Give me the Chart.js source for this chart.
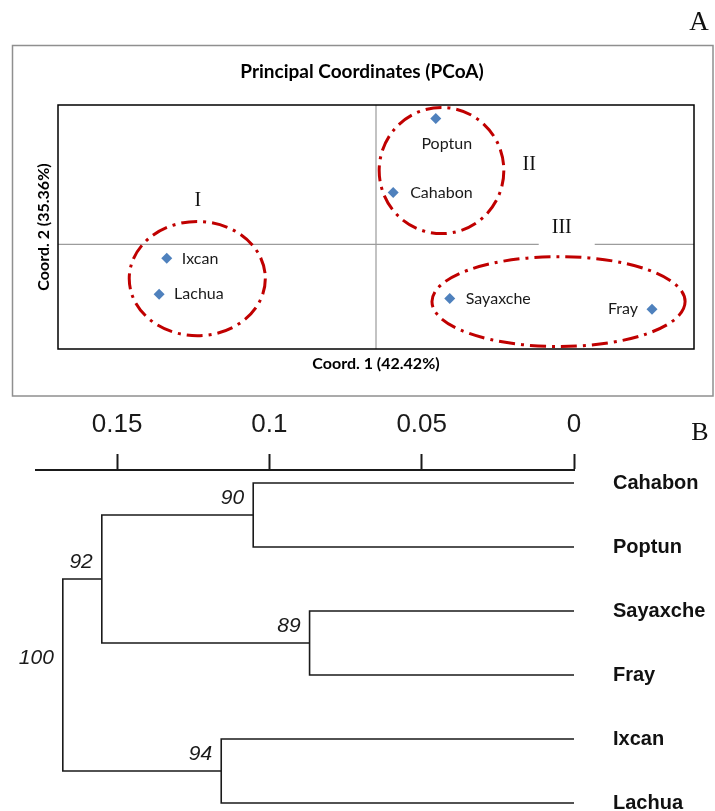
<!DOCTYPE html>
<html>
<head>
<meta charset="utf-8">
<script src="https://cdn.jsdelivr.net/npm/chart.js@4.4.1/dist/chart.umd.min.js"></script>
<style>
html,body{margin:0;padding:0;background:#fff;}
#wrap{position:relative;width:715px;height:811px;overflow:hidden;}
#pcoa{position:absolute;left:0;top:0;}
#dendro{position:absolute;left:0;top:400px;}
</style>
</head>
<body>
<div id="wrap">
  <canvas id="pcoa" width="715" height="400"></canvas>
  <canvas id="dendro" width="715" height="411"></canvas>
</div>
<script>
// ---------- Panel A data (PCoA) ----------
const populations = ['Poptun', 'Cahabon', 'Ixcan', 'Lachua', 'Sayaxche', 'Fray'];
const coord1 = [0.094, 0.027, -0.329, -0.341, 0.116, 0.434];
const coord2 = [0.361, 0.149, -0.040, -0.143, -0.155, -0.186];
const pcoaTitle = 'Principal Coordinates (PCoA)';
const coord1Title = 'Coord. 1 (42.42%)';
const coord2Title = 'Coord. 2 (35.36%)';
const groupNames = ['I', 'II', 'III'];
const groupCenterX = [-0.281, 0.103, 0.287];
const groupCenterY = [-0.098, 0.212, -0.164];
const groupRadiusX = [0.107, 0.098, 0.199];
const groupRadiusY = [0.164, 0.181, 0.129];
const groupLabelX = [-0.280, 0.241, 0.292];
const groupLabelY = [0.126, 0.229, 0.049];

// ---------- Panel B data (dendrogram) ----------
const leaves = ['Cahabon', 'Poptun', 'Sayaxche', 'Fray', 'Ixcan', 'Lachua'];
const distTicks = [0.15, 0.1, 0.05, 0];
// children ids: 0..5 are leaves, 6.. are earlier nodes
const nodeChildren = [[0, 1], [2, 3], [6, 7], [4, 5], [8, 9]];
const nodeHeight = [0.1053, 0.0868, 0.1550, 0.1158, 0.1678];
const bootstrap = [90, 89, 92, 94, 100];

// ---------- Panel A chart ----------
const labelPlacement = [
  {dx: 11, dy: 25, align: 'center'},
  {dx: 17, dy: 0, align: 'left'},
  {dx: 15, dy: 0, align: 'left'},
  {dx: 15, dy: 0, align: 'left'},
  {dx: 16, dy: 0, align: 'left'},
  {dx: -14, dy: 0, align: 'right'}
];
const SANS_A = 'Lato, "Open Sans", sans-serif';

const pcoaDecor = {
  id: 'pcoaDecor',
  beforeDatasetsDraw(chart) {
    const {ctx, chartArea: a, scales: {x, y}} = chart;
    ctx.save();
    ctx.strokeStyle = '#8f8f8f';
    ctx.lineWidth = 1.5;
    ctx.strokeRect(12.5, 45.5, 700.5, 350.5);
    const x0 = x.getPixelForValue(0), y0 = y.getPixelForValue(0);
    ctx.strokeStyle = '#9c9c9c';
    ctx.lineWidth = 1.2;
    ctx.beginPath();
    ctx.moveTo(a.left, y0); ctx.lineTo(a.right, y0);
    ctx.moveTo(x0, a.top); ctx.lineTo(x0, a.bottom);
    ctx.stroke();
    // white box behind group label III
    ctx.fillStyle = '#fff';
    const g3x = x.getPixelForValue(groupLabelX[2]);
    ctx.fillRect(g3x - 23, y0 - 2, 56, 4);
    ctx.strokeStyle = '#000';
    ctx.lineWidth = 1.5;
    ctx.strokeRect(a.left, a.top, a.right - a.left, a.bottom - a.top);
    // ellipses
    ctx.strokeStyle = '#c00000';
    ctx.lineWidth = 3;
    ctx.setLineDash([16, 6, 3, 6]);
    for (let i = 0; i < groupNames.length; i++) {
      const cx = x.getPixelForValue(groupCenterX[i]);
      const cy = y.getPixelForValue(groupCenterY[i]);
      const rx = Math.abs(x.getPixelForValue(groupCenterX[i] + groupRadiusX[i]) - cx);
      const ry = Math.abs(y.getPixelForValue(groupCenterY[i] + groupRadiusY[i]) - cy);
      ctx.beginPath();
      ctx.ellipse(cx, cy, rx, ry, 0, 0, Math.PI * 2);
      ctx.stroke();
    }
    ctx.setLineDash([]);
    ctx.restore();
  },
  afterDatasetsDraw(chart) {
    const {ctx, chartArea: a, scales: {x, y}} = chart;
    ctx.save();
    // group labels
    ctx.fillStyle = '#111';
    ctx.font = '20px "Liberation Serif", "Times New Roman", serif';
    ctx.textAlign = 'center';
    ctx.textBaseline = 'middle';
    for (let i = 0; i < groupNames.length; i++) {
      ctx.fillText(groupNames[i], x.getPixelForValue(groupLabelX[i]), y.getPixelForValue(groupLabelY[i]));
    }
    // point labels
    ctx.font = '16px ' + SANS_A;
    ctx.fillStyle = '#1a1a1a';
    for (let i = 0; i < populations.length; i++) {
      const p = labelPlacement[i];
      ctx.textAlign = p.align;
      ctx.fillText(populations[i], x.getPixelForValue(coord1[i]) + p.dx, y.getPixelForValue(coord2[i]) + p.dy);
    }
    // titles
    ctx.fillStyle = '#000';
    ctx.textAlign = 'center';
    ctx.font = 'bold 19px ' + SANS_A;
    ctx.fillText(pcoaTitle, 362, 72);
    ctx.font = 'bold 16px ' + SANS_A;
    ctx.fillText(coord1Title, x.getPixelForValue(0), 364);
    ctx.save();
    ctx.translate(44, 227);
    ctx.rotate(-Math.PI / 2);
    ctx.fillText(coord2Title, 0, 0);
    ctx.restore();
    // panel letter
    ctx.font = '27px "Liberation Serif", "Times New Roman", serif';
    ctx.fillStyle = '#111';
    ctx.fillText('A', 699, 23);
    ctx.restore();
  }
};

new Chart(document.getElementById('pcoa'), {
  type: 'scatter',
  data: {
    datasets: [{
      data: populations.map((n, i) => ({x: coord1[i], y: coord2[i]})),
      pointStyle: 'rectRot',
      pointRadius: 5.5,
      pointBackgroundColor: '#4f81bd',
      pointBorderColor: '#4f81bd',
      pointBorderWidth: 0
    }]
  },
  options: {
    responsive: false,
    animation: false,
    events: [],
    layout: {padding: {left: 58, right: 21, top: 105, bottom: 51}},
    plugins: {legend: {display: false}, tooltip: {enabled: false}},
    scales: {
      x: {type: 'linear', min: -0.5, max: 0.5, display: false},
      y: {type: 'linear', min: -0.3, max: 0.4, display: false}
    }
  },
  plugins: [pcoaDecor]
});

// ---------- Panel B chart ----------
const nLeaves = leaves.length;
function heightOf(id) { return id < nLeaves ? 0 : nodeHeight[id - nLeaves]; }
function rowOf(id) {
  if (id < nLeaves) return id;
  const ch = nodeChildren[id - nLeaves];
  return (rowOf(ch[0]) + rowOf(ch[1])) / 2;
}
const dendroDatasets = nodeChildren.map((ch, i) => ({
  data: [
    {x: heightOf(ch[0]), y: rowOf(ch[0])},
    {x: nodeHeight[i], y: rowOf(ch[0])},
    {x: nodeHeight[i], y: rowOf(ch[1])},
    {x: heightOf(ch[1]), y: rowOf(ch[1])}
  ],
  showLine: true,
  borderColor: '#1a1a1a',
  borderWidth: 1.6,
  pointRadius: 0,
  fill: false,
  tension: 0
}));

const SANS_B = '"Liberation Sans", Arial, Helvetica, sans-serif';
const dendroDecor = {
  id: 'dendroDecor',
  afterDatasetsDraw(chart) {
    const {ctx, scales: {x, y}} = chart;
    ctx.save();
    ctx.fillStyle = '#1a1a1a';
    ctx.font = 'italic 21px ' + SANS_B;
    ctx.textAlign = 'right';
    ctx.textBaseline = 'middle';
    for (let i = 0; i < nodeChildren.length; i++) {
      const px = x.getPixelForValue(nodeHeight[i]);
      const py = y.getPixelForValue(rowOf(i + nLeaves));
      ctx.fillText(String(bootstrap[i]), px - 9, py - 17);
    }
    ctx.font = '26px "Liberation Serif", "Times New Roman", serif';
    ctx.textAlign = 'center';
    ctx.fillStyle = '#111';
    ctx.fillText('B', 700, 33);
    ctx.restore();
  }
};

new Chart(document.getElementById('dendro'), {
  type: 'scatter',
  data: {datasets: dendroDatasets},
  options: {
    responsive: false,
    animation: false,
    events: [],
    layout: {padding: {left: 36, right: 0, top: 0, bottom: 0}},
    plugins: {legend: {display: false}, tooltip: {enabled: false}},
    scales: {
      x: {
        type: 'linear',
        position: 'top',
        reverse: true,
        min: 0,
        max: 0.1766,
        afterBuildTicks: (s) => { s.ticks = distTicks.map(v => ({value: v})); },
        afterFit: (s) => { s.height = 70; },
        ticks: {
          callback: (v) => String(v),
          font: {family: SANS_B, size: 26},
          color: '#1a1a1a',
          padding: 14,
          maxRotation: 0,
          autoSkip: false
        },
        grid: {display: true, drawOnChartArea: false, drawTicks: true, tickLength: 16, tickWidth: 2, tickColor: '#1a1a1a'},
        border: {display: true, color: '#1a1a1a', width: 2}
      },
      y: {
        type: 'linear',
        position: 'right',
        reverse: true,
        min: -0.2031,
        max: 5.125,
        afterBuildTicks: (s) => { s.ticks = leaves.map((l, i) => ({value: i})); },
        afterFit: (s) => { s.width = 141; s.paddingTop = 0; s.paddingBottom = 0; },
        ticks: {
          callback: (v) => leaves[v],
          font: {family: SANS_B, size: 20, weight: 'bold'},
          color: '#111',
          padding: 39,
          crossAlign: 'near',
          autoSkip: false
        },
        grid: {display: false, drawTicks: false},
        border: {display: false}
      }
    }
  },
  plugins: [dendroDecor]
});
</script>
</body>
</html>
